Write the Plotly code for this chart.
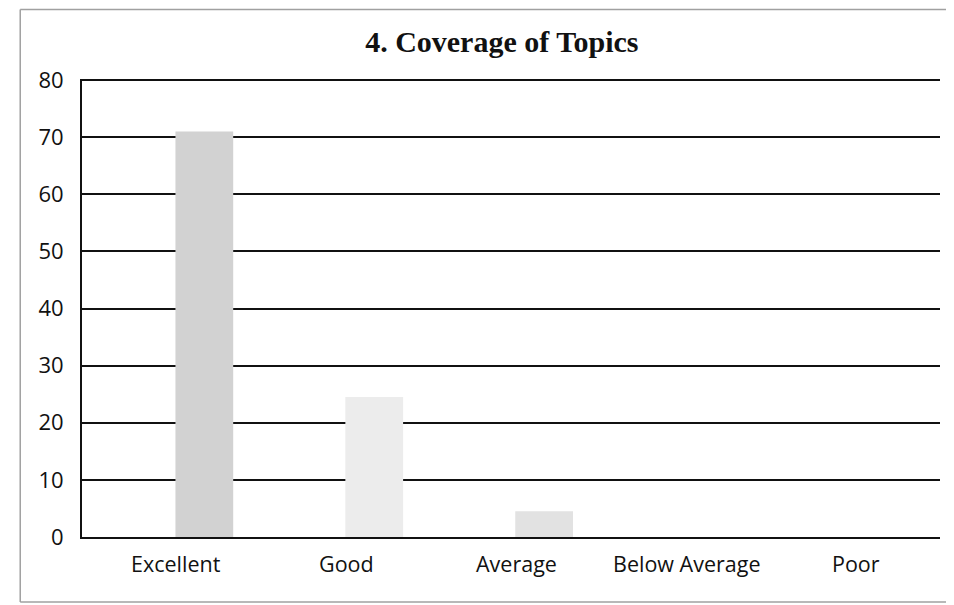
import plotly.graph_objects as go

categories = ["Excellent", "Good", "Average", "Below Average", "Poor"]
values = [71, 24.5, 4.5, 0, 0]
bar_colors = ["#d2d2d2", "#ececec", "#e2e2e2", "#e2e2e2", "#e2e2e2"]
y_ticks = [0, 10, 20, 30, 40, 50, 60, 70, 80]

fig = go.Figure(go.Bar(x=categories, y=values, marker=dict(color=bar_colors, line=dict(width=0)),
                       width=0.34))

fig.update_layout(
    width=946, height=597,
    margin=dict(l=74, r=14, t=71, b=68, autoexpand=False),
    paper_bgcolor="white", plot_bgcolor="white",
    title=dict(text="<b>4. Coverage of Topics</b>", x=0.522, xanchor="center", y=0.944, yanchor="middle",
               font=dict(family="Liberation Serif", size=30, color="#111")),
    showlegend=False,
    font=dict(family="Open Sans", color="#111"),
)
fig.update_yaxes(range=[0, 80.2], tickvals=y_ticks, showgrid=True, gridcolor="#111", gridwidth=2,
                 showline=True, linecolor="#111", linewidth=2, ticks="", zeroline=False,
                 tickfont=dict(size=22, family="Open Sans", color="#111"), ticklabelstandoff=12,
                 automargin=False)
fig.update_xaxes(range=[-0.72, 4.33], showline=True, linecolor="#111", linewidth=2, ticks="",
                 showticklabels=False, automargin=False)

for c in categories:
    fig.add_annotation(x=c, y=0, xref="x", yref="y", text=c, showarrow=False,
                       yanchor="middle", yshift=-26, xshift=-28,
                       font=dict(size=21.5, family="Open Sans", color="#111"))

# scanned page border: left, top and bottom edges only
border = dict(color="#a0a0a0", width=1.5)
fig.add_shape(type="line", xref="paper", yref="paper", x0=-0.072, x1=-0.072, y0=-0.142, y1=1.152,
              line=border, layer="below")
fig.add_shape(type="line", xref="paper", yref="paper", x0=-0.072, x1=1.02, y0=1.152, y1=1.152,
              line=border, layer="below")
fig.add_shape(type="line", xref="paper", yref="paper", x0=-0.072, x1=1.02, y0=-0.142, y1=-0.142,
              line=border, layer="below")

fig.write_html("out.html")
